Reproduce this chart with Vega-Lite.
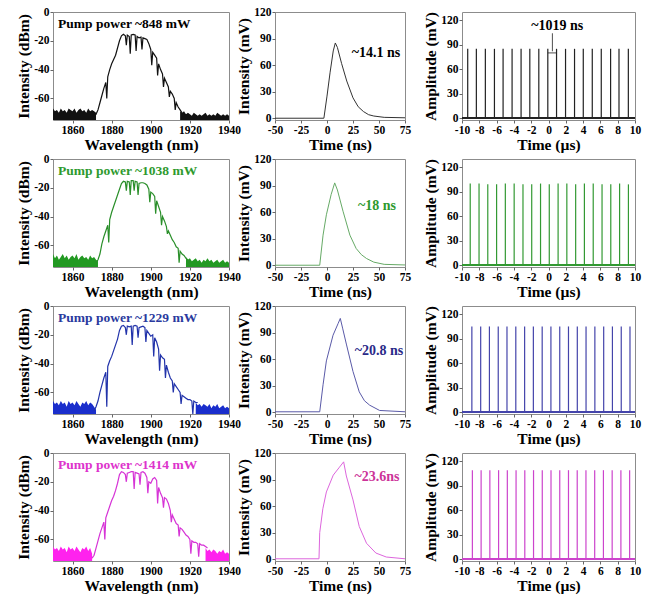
{
"$schema": "https://vega.github.io/schema/vega-lite/v6.json",
"padding": {"left": 16, "top": 5, "right": 2, "bottom": 2},
"background": "white",
"config": {
 "view": {"stroke": "#8c8c8c", "strokeWidth": 1},
 "axis": {"labelFont": "Liberation Serif", "labelFontWeight": "bold", "labelFontSize": 11.5, "labelColor": "#000", "titleFont": "Liberation Serif", "titleFontWeight": "bold", "titleFontSize": 15.5, "titleColor": "#000", "grid": false, "domain": false, "tickSize": 3, "tickColor": "#666", "labelFlush": false, "labelPadding": 1, "titlePadding": 2, "labelOverlap": false, "tickCount": 30, "labelExpr": "'' + datum.value"},
 "text": {"font": "Liberation Serif", "fontWeight": "bold"}
},
"datasets": {
 "n1": [{"w":1850,"hi":-67,"seg":"L"},{"w":1851,"hi":-69,"seg":"L"},{"w":1852,"hi":-68,"seg":"L"},{"w":1853,"hi":-70,"seg":"L"},{"w":1854,"hi":-67,"seg":"L"},{"w":1855,"hi":-69,"seg":"L"},{"w":1856,"hi":-68,"seg":"L"},{"w":1857,"hi":-70,"seg":"L"},{"w":1858,"hi":-67,"seg":"L"},{"w":1859,"hi":-68,"seg":"L"},{"w":1860,"hi":-69,"seg":"L"},{"w":1861,"hi":-67,"seg":"L"},{"w":1862,"hi":-70,"seg":"L"},{"w":1863,"hi":-68,"seg":"L"},{"w":1864,"hi":-67,"seg":"L"},{"w":1865,"hi":-69,"seg":"L"},{"w":1866,"hi":-68,"seg":"L"},{"w":1867,"hi":-70,"seg":"L"},{"w":1868,"hi":-67,"seg":"L"},{"w":1869,"hi":-69,"seg":"L"},{"w":1870,"hi":-68,"seg":"L"},{"w":1871,"hi":-69,"seg":"L"},{"w":1872,"hi":-70,"seg":"L"},
  {"w":1915,"hi":-69,"seg":"R"},{"w":1916,"hi":-70,"seg":"R"},{"w":1917,"hi":-69,"seg":"R"},{"w":1918,"hi":-71,"seg":"R"},{"w":1919,"hi":-70,"seg":"R"},{"w":1920,"hi":-71,"seg":"R"},{"w":1921,"hi":-72,"seg":"R"},{"w":1922,"hi":-70,"seg":"R"},{"w":1923,"hi":-71,"seg":"R"},{"w":1924,"hi":-72,"seg":"R"},{"w":1925,"hi":-71,"seg":"R"},{"w":1926,"hi":-72,"seg":"R"},{"w":1927,"hi":-71,"seg":"R"},{"w":1928,"hi":-70,"seg":"R"},{"w":1929,"hi":-72,"seg":"R"},{"w":1930,"hi":-71,"seg":"R"},{"w":1931,"hi":-72,"seg":"R"},{"w":1932,"hi":-71,"seg":"R"},{"w":1933,"hi":-72,"seg":"R"},{"w":1934,"hi":-70,"seg":"R"},{"w":1935,"hi":-71,"seg":"R"},{"w":1936,"hi":-72,"seg":"R"},{"w":1937,"hi":-71,"seg":"R"},{"w":1938,"hi":-72,"seg":"R"},{"w":1939,"hi":-71,"seg":"R"},{"w":1940,"hi":-72,"seg":"R"}],
 "s1": [{"w":1871,"v":-72},{"w":1872,"v":-71},{"w":1873,"v":-68},{"w":1874,"v":-63},{"w":1875,"v":-58},{"w":1876,"v":-53},{"w":1877,"v":-49},{"w":1877.5,"v":-60},{"w":1878,"v":-45},{"w":1879,"v":-40},{"w":1880,"v":-36},{"w":1881,"v":-33},{"w":1882,"v":-30},{"w":1883,"v":-25},{"w":1884,"v":-20},{"w":1885,"v":-16.5},{"w":1886,"v":-15.5},{"w":1887,"v":-16.5},{"w":1887.5,"v":-23},{"w":1888,"v":-16},{"w":1889,"v":-17},{"w":1889.5,"v":-29},{"w":1890,"v":-16},{"w":1891,"v":-15.5},{"w":1892,"v":-16},{"w":1892.5,"v":-27},{"w":1893,"v":-17},{"w":1894,"v":-18},{"w":1895,"v":-17.5},{"w":1895.5,"v":-26},{"w":1896,"v":-18},{"w":1897,"v":-18.5},{"w":1898,"v":-19},{"w":1899,"v":-22},{"w":1900,"v":-26},{"w":1900.5,"v":-37},{"w":1901,"v":-28},{"w":1902,"v":-30},{"w":1903,"v":-32},{"w":1903.5,"v":-44},{"w":1904,"v":-36},{"w":1905,"v":-40},{"w":1906,"v":-43},{"w":1906.5,"v":-52},{"w":1907,"v":-46},{"w":1908,"v":-49},{"w":1909,"v":-52},{"w":1909.5,"v":-59},{"w":1910,"v":-55},{"w":1911,"v":-57},{"w":1912,"v":-60},{"w":1912.5,"v":-68},{"w":1913,"v":-63},{"w":1914,"v":-66},{"w":1915,"v":-68},{"w":1916,"v":-70}],
 "n2": [{"w":1850,"hi":-66,"seg":"L"},{"w":1851,"hi":-69,"seg":"L"},{"w":1852,"hi":-67,"seg":"L"},{"w":1853,"hi":-70,"seg":"L"},{"w":1854,"hi":-68,"seg":"L"},{"w":1855,"hi":-66,"seg":"L"},{"w":1856,"hi":-69,"seg":"L"},{"w":1857,"hi":-67,"seg":"L"},{"w":1858,"hi":-70,"seg":"L"},{"w":1859,"hi":-68,"seg":"L"},{"w":1860,"hi":-67,"seg":"L"},{"w":1861,"hi":-69,"seg":"L"},{"w":1862,"hi":-66,"seg":"L"},{"w":1863,"hi":-70,"seg":"L"},{"w":1864,"hi":-68,"seg":"L"},{"w":1865,"hi":-67,"seg":"L"},{"w":1866,"hi":-69,"seg":"L"},{"w":1867,"hi":-68,"seg":"L"},{"w":1868,"hi":-70,"seg":"L"},{"w":1869,"hi":-67,"seg":"L"},{"w":1870,"hi":-69,"seg":"L"},{"w":1871,"hi":-68,"seg":"L"},{"w":1872,"hi":-70,"seg":"L"},{"w":1873,"hi":-71,"seg":"L"},
  {"w":1918,"hi":-68,"seg":"R"},{"w":1919,"hi":-70,"seg":"R"},{"w":1920,"hi":-69,"seg":"R"},{"w":1921,"hi":-71,"seg":"R"},{"w":1922,"hi":-70,"seg":"R"},{"w":1923,"hi":-69,"seg":"R"},{"w":1924,"hi":-71,"seg":"R"},{"w":1925,"hi":-70,"seg":"R"},{"w":1926,"hi":-72,"seg":"R"},{"w":1927,"hi":-70,"seg":"R"},{"w":1928,"hi":-71,"seg":"R"},{"w":1929,"hi":-69,"seg":"R"},{"w":1930,"hi":-71,"seg":"R"},{"w":1931,"hi":-70,"seg":"R"},{"w":1932,"hi":-72,"seg":"R"},{"w":1933,"hi":-71,"seg":"R"},{"w":1934,"hi":-70,"seg":"R"},{"w":1935,"hi":-72,"seg":"R"},{"w":1936,"hi":-71,"seg":"R"},{"w":1937,"hi":-70,"seg":"R"},{"w":1938,"hi":-72,"seg":"R"},{"w":1939,"hi":-71,"seg":"R"},{"w":1940,"hi":-72,"seg":"R"}],
 "s2": [{"w":1872,"v":-72},{"w":1873,"v":-70},{"w":1874,"v":-66},{"w":1875,"v":-59},{"w":1876,"v":-54},{"w":1877,"v":-50},{"w":1878,"v":-46},{"w":1878.5,"v":-58},{"w":1879,"v":-42},{"w":1880,"v":-37},{"w":1881,"v":-33},{"w":1882,"v":-29},{"w":1883,"v":-25},{"w":1884,"v":-21},{"w":1885,"v":-17},{"w":1886,"v":-15.5},{"w":1887,"v":-16},{"w":1887.5,"v":-22},{"w":1888,"v":-15.5},{"w":1889,"v":-16},{"w":1889.5,"v":-25},{"w":1890,"v":-15},{"w":1891,"v":-15},{"w":1891.5,"v":-22},{"w":1892,"v":-15.5},{"w":1893,"v":-16},{"w":1893.5,"v":-25},{"w":1894,"v":-17},{"w":1895,"v":-16.5},{"w":1896,"v":-16.5},{"w":1897,"v":-17},{"w":1898,"v":-18},{"w":1899,"v":-21},{"w":1899.5,"v":-30},{"w":1900,"v":-23},{"w":1901,"v":-24},{"w":1902,"v":-26},{"w":1902.5,"v":-38},{"w":1903,"v":-29},{"w":1904,"v":-33},{"w":1905,"v":-37},{"w":1905.5,"v":-46},{"w":1906,"v":-40},{"w":1907,"v":-43},{"w":1908,"v":-47},{"w":1908.5,"v":-52},{"w":1909,"v":-50},{"w":1910,"v":-53},{"w":1911,"v":-56},{"w":1912,"v":-58},{"w":1913,"v":-61},{"w":1914,"v":-62},{"w":1914.5,"v":-72},{"w":1915,"v":-64},{"w":1916,"v":-66},{"w":1917,"v":-67},{"w":1918,"v":-69},{"w":1919,"v":-70},{"w":1919.5,"v":-75},{"w":1920,"v":-70}],
 "n3": [{"w":1850,"hi":-66,"seg":"L"},{"w":1851,"hi":-68,"seg":"L"},{"w":1852,"hi":-67,"seg":"L"},{"w":1853,"hi":-69,"seg":"L"},{"w":1854,"hi":-66,"seg":"L"},{"w":1855,"hi":-68,"seg":"L"},{"w":1856,"hi":-67,"seg":"L"},{"w":1857,"hi":-70,"seg":"L"},{"w":1858,"hi":-66,"seg":"L"},{"w":1859,"hi":-68,"seg":"L"},{"w":1860,"hi":-67,"seg":"L"},{"w":1861,"hi":-69,"seg":"L"},{"w":1862,"hi":-66,"seg":"L"},{"w":1863,"hi":-68,"seg":"L"},{"w":1864,"hi":-70,"seg":"L"},{"w":1865,"hi":-67,"seg":"L"},{"w":1866,"hi":-68,"seg":"L"},{"w":1867,"hi":-66,"seg":"L"},{"w":1868,"hi":-69,"seg":"L"},{"w":1869,"hi":-67,"seg":"L"},{"w":1870,"hi":-68,"seg":"L"},{"w":1871,"hi":-70,"seg":"L"},{"w":1872,"hi":-72,"seg":"L"},
  {"w":1923,"hi":-67,"seg":"R"},{"w":1924,"hi":-69,"seg":"R"},{"w":1925,"hi":-68,"seg":"R"},{"w":1926,"hi":-70,"seg":"R"},{"w":1927,"hi":-68,"seg":"R"},{"w":1928,"hi":-69,"seg":"R"},{"w":1929,"hi":-70,"seg":"R"},{"w":1930,"hi":-68,"seg":"R"},{"w":1931,"hi":-71,"seg":"R"},{"w":1932,"hi":-69,"seg":"R"},{"w":1933,"hi":-70,"seg":"R"},{"w":1934,"hi":-68,"seg":"R"},{"w":1935,"hi":-71,"seg":"R"},{"w":1936,"hi":-70,"seg":"R"},{"w":1937,"hi":-69,"seg":"R"},{"w":1938,"hi":-71,"seg":"R"},{"w":1939,"hi":-70,"seg":"R"},{"w":1940,"hi":-71,"seg":"R"}],
 "s3": [{"w":1871,"v":-73},{"w":1872,"v":-70},{"w":1873,"v":-66},{"w":1874,"v":-60},{"w":1875,"v":-55},{"w":1876,"v":-50},{"w":1877,"v":-46},{"w":1877.5,"v":-70},{"w":1878,"v":-42},{"w":1879,"v":-38},{"w":1880,"v":-35},{"w":1881,"v":-31},{"w":1882,"v":-27},{"w":1883,"v":-23},{"w":1884,"v":-17},{"w":1885,"v":-14},{"w":1886,"v":-13.5},{"w":1887,"v":-15},{"w":1887.5,"v":-20},{"w":1888,"v":-14},{"w":1889,"v":-14.5},{"w":1890,"v":-14},{"w":1890.5,"v":-27},{"w":1891,"v":-14},{"w":1892,"v":-13.5},{"w":1893,"v":-14},{"w":1893.5,"v":-22},{"w":1894,"v":-15},{"w":1895,"v":-14.5},{"w":1896,"v":-14},{"w":1897,"v":-15},{"w":1897.5,"v":-25},{"w":1898,"v":-17},{"w":1899,"v":-19},{"w":1900,"v":-21},{"w":1901,"v":-20},{"w":1901.5,"v":-35},{"w":1902,"v":-22},{"w":1903,"v":-25},{"w":1904,"v":-30},{"w":1904.5,"v":-45},{"w":1905,"v":-34},{"w":1906,"v":-36},{"w":1907,"v":-37},{"w":1907.5,"v":-50},{"w":1908,"v":-41},{"w":1909,"v":-46},{"w":1910,"v":-50},{"w":1911,"v":-52},{"w":1911.5,"v":-60},{"w":1912,"v":-54},{"w":1913,"v":-56},{"w":1914,"v":-58},{"w":1915,"v":-60},{"w":1915.5,"v":-68},{"w":1916,"v":-62},{"w":1917,"v":-63},{"w":1918,"v":-64},{"w":1919,"v":-65},{"w":1920,"v":-65},{"w":1921,"v":-66},{"w":1921.5,"v":-75},{"w":1922,"v":-66},{"w":1923,"v":-67},{"w":1924,"v":-67}],
 "n4": [{"w":1850,"hi":-65,"seg":"L"},{"w":1851,"hi":-67,"seg":"L"},{"w":1852,"hi":-66,"seg":"L"},{"w":1853,"hi":-68,"seg":"L"},{"w":1854,"hi":-65,"seg":"L"},{"w":1855,"hi":-67,"seg":"L"},{"w":1856,"hi":-66,"seg":"L"},{"w":1857,"hi":-69,"seg":"L"},{"w":1858,"hi":-65,"seg":"L"},{"w":1859,"hi":-67,"seg":"L"},{"w":1860,"hi":-66,"seg":"L"},{"w":1861,"hi":-68,"seg":"L"},{"w":1862,"hi":-65,"seg":"L"},{"w":1863,"hi":-67,"seg":"L"},{"w":1864,"hi":-69,"seg":"L"},{"w":1865,"hi":-66,"seg":"L"},{"w":1866,"hi":-67,"seg":"L"},{"w":1867,"hi":-65,"seg":"L"},{"w":1868,"hi":-68,"seg":"L"},{"w":1869,"hi":-66,"seg":"L"},{"w":1870,"hi":-70,"seg":"L"},
  {"w":1928,"hi":-66,"seg":"R"},{"w":1929,"hi":-68,"seg":"R"},{"w":1930,"hi":-67,"seg":"R"},{"w":1931,"hi":-69,"seg":"R"},{"w":1932,"hi":-67,"seg":"R"},{"w":1933,"hi":-68,"seg":"R"},{"w":1934,"hi":-70,"seg":"R"},{"w":1935,"hi":-68,"seg":"R"},{"w":1936,"hi":-69,"seg":"R"},{"w":1937,"hi":-67,"seg":"R"},{"w":1938,"hi":-70,"seg":"R"},{"w":1939,"hi":-69,"seg":"R"},{"w":1940,"hi":-70,"seg":"R"}],
 "s4": [{"w":1870,"v":-73},{"w":1871,"v":-71},{"w":1872,"v":-66},{"w":1873,"v":-61},{"w":1874,"v":-56},{"w":1875,"v":-52},{"w":1876,"v":-48},{"w":1876.5,"v":-60},{"w":1877,"v":-45},{"w":1878,"v":-41},{"w":1879,"v":-37},{"w":1880,"v":-33},{"w":1881,"v":-30},{"w":1882,"v":-26},{"w":1883,"v":-21},{"w":1884,"v":-15},{"w":1885,"v":-13},{"w":1886,"v":-13.5},{"w":1887,"v":-15},{"w":1887.5,"v":-20},{"w":1888,"v":-14},{"w":1889,"v":-13.5},{"w":1890,"v":-13},{"w":1891,"v":-13},{"w":1891.5,"v":-25},{"w":1892,"v":-13.5},{"w":1893,"v":-14},{"w":1894,"v":-14.5},{"w":1894.5,"v":-22},{"w":1895,"v":-13.5},{"w":1896,"v":-13},{"w":1897,"v":-14},{"w":1898,"v":-17},{"w":1898.5,"v":-28},{"w":1899,"v":-20},{"w":1900,"v":-21},{"w":1901,"v":-18},{"w":1902,"v":-17},{"w":1903,"v":-19},{"w":1903.5,"v":-35},{"w":1904,"v":-24},{"w":1905,"v":-28},{"w":1906,"v":-31},{"w":1906.5,"v":-38},{"w":1907,"v":-31},{"w":1908,"v":-32},{"w":1909,"v":-35},{"w":1910,"v":-40},{"w":1910.5,"v":-48},{"w":1911,"v":-43},{"w":1912,"v":-46},{"w":1913,"v":-49},{"w":1914,"v":-50},{"w":1914.5,"v":-58},{"w":1915,"v":-52},{"w":1916,"v":-53},{"w":1917,"v":-55},{"w":1918,"v":-57},{"w":1919,"v":-58},{"w":1920,"v":-60},{"w":1920.5,"v":-70},{"w":1921,"v":-61},{"w":1922,"v":-62},{"w":1923,"v":-62},{"w":1924,"v":-63},{"w":1924.5,"v":-72},{"w":1925,"v":-63},{"w":1926,"v":-64},{"w":1927,"v":-64},{"w":1928,"v":-65},{"w":1929,"v":-66}],
 "p1": [{"t":-50,"v":0},{"t":-3,"v":0},{"t":0,"v":25},{"t":3,"v":52},{"t":6,"v":76},{"t":8,"v":85},{"t":10,"v":80},{"t":14,"v":62},{"t":19,"v":42},{"t":25,"v":23},{"t":30,"v":13},{"t":35,"v":7.6},{"t":40,"v":4},{"t":45,"v":2.5},{"t":55,"v":1},{"t":75,"v":0.5}],
 "p2": [{"t":-50,"v":0},{"t":-7,"v":0},{"t":-3.8,"v":34},{"t":-0.6,"v":57},{"t":4,"v":80},{"t":7.4,"v":93},{"t":10,"v":85},{"t":15.4,"v":61},{"t":22,"v":34},{"t":28,"v":19},{"t":33,"v":12},{"t":38,"v":7.6},{"t":45,"v":3.5},{"t":55,"v":1},{"t":75,"v":0.3}],
 "p3": [{"t":-50,"v":0.5},{"t":-7,"v":0.5},{"t":-3.8,"v":31},{"t":-0.6,"v":58},{"t":5.8,"v":87},{"t":10.6,"v":100},{"t":12.8,"v":106},{"t":15,"v":95},{"t":18.6,"v":77},{"t":25,"v":46},{"t":31,"v":23},{"t":36,"v":13},{"t":41,"v":8},{"t":50.6,"v":2},{"t":75,"v":0.5}],
 "p4": [{"t":-50,"v":0.5},{"t":-7.7,"v":0.5},{"t":-7,"v":30},{"t":-4,"v":57},{"t":-0.6,"v":76},{"t":6,"v":95},{"t":12,"v":104},{"t":16,"v":110},{"t":18.6,"v":94},{"t":25,"v":67},{"t":31,"v":37},{"t":38,"v":18},{"t":47,"v":7},{"t":57,"v":2.5},{"t":75,"v":0.5}],
 "t1": [{"t":-9.34,"a":85},{"t":-8.34,"a":85},{"t":-7.3,"a":85},{"t":-6.25,"a":85},{"t":-5.25,"a":85},{"t":-4.21,"a":85},{"t":-3.17,"a":85},{"t":-2.16,"a":85},{"t":-1.12,"a":85},{"t":-0.08,"a":85},{"t":0.93,"a":85},{"t":1.97,"a":85},{"t":3.01,"a":85},{"t":4.02,"a":85},{"t":5.06,"a":85},{"t":6.1,"a":85},{"t":7.18,"a":85},{"t":8.15,"a":85},{"t":9.23,"a":85}],
 "t2": [{"t":-9.05,"a":100},{"t":-8.03,"a":100},{"t":-7.02,"a":99},{"t":-6.0,"a":99},{"t":-4.99,"a":100},{"t":-3.97,"a":100},{"t":-2.95,"a":99},{"t":-1.94,"a":99},{"t":-0.92,"a":100},{"t":0.09,"a":99},{"t":1.11,"a":100},{"t":2.12,"a":100},{"t":3.14,"a":99},{"t":4.15,"a":100},{"t":5.17,"a":100},{"t":6.19,"a":99},{"t":7.2,"a":99},{"t":8.22,"a":100},{"t":9.24,"a":99}],
 "t3": [{"t":-8.86,"a":105},{"t":-7.84,"a":105},{"t":-6.83,"a":105},{"t":-5.81,"a":105},{"t":-4.8,"a":105},{"t":-3.78,"a":105},{"t":-2.76,"a":105},{"t":-1.75,"a":105},{"t":-0.73,"a":105},{"t":0.28,"a":105},{"t":1.3,"a":105},{"t":2.31,"a":105},{"t":3.33,"a":105},{"t":4.34,"a":105},{"t":5.36,"a":105},{"t":6.38,"a":105},{"t":7.39,"a":105},{"t":8.41,"a":105},{"t":9.42,"a":105}],
 "t4": [{"t":-8.8,"a":109},{"t":-7.79,"a":109},{"t":-6.78,"a":109},{"t":-5.77,"a":109},{"t":-4.76,"a":109},{"t":-3.75,"a":109},{"t":-2.74,"a":109},{"t":-1.73,"a":109},{"t":-0.72,"a":109},{"t":0.29,"a":109},{"t":1.3,"a":109},{"t":2.31,"a":109},{"t":3.32,"a":109},{"t":4.33,"a":109},{"t":5.34,"a":109},{"t":6.35,"a":109},{"t":7.36,"a":109},{"t":8.37,"a":109},{"t":9.38,"a":109}]
},
"spacing": -2,
"vconcat": [
 {"spacing": 11, "hconcat": [
  {"spacing": -5, "hconcat": [
  {"width": 176, "height": 108, "layer": [
   {"data": {"name": "n1"}, "mark": {"type": "area", "color": "#111"}, "encoding": {"x": {"field": "w", "type": "quantitative", "scale": {"domain": [1850, 1940], "nice": false, "zero": false}, "axis": {"title": "Wavelength (nm)", "values": [1860, 1880, 1900, 1920, 1940], "tickCount": 30}}, "y": {"field": "hi", "type": "quantitative", "scale": {"domain": [-75, 0], "nice": false, "zero": false}, "axis": {"title": "Intensity (dBm)", "values": [0, -20, -40, -60], "tickCount": 30}}, "y2": {"datum": -75}, "detail": {"field": "seg"}}},
   {"data": {"name": "s1"}, "mark": {"type": "line", "color": "#111", "strokeWidth": 1.2}, "encoding": {"x": {"field": "w", "type": "quantitative"}, "y": {"field": "v", "type": "quantitative"}}},
   {"data": {"values": [{"label": "Pump power ~848 mW"}]}, "mark": {"type": "text", "align": "left", "baseline": "middle", "fontSize": 13.5, "color": "#000"}, "encoding": {"x": {"datum": 1852.6}, "y": {"datum": -8.4}, "text": {"field": "label"}}}
  ]},
  {"width": 130, "height": 108, "layer": [
   {"data": {"name": "p1"}, "mark": {"type": "line", "color": "#333", "strokeWidth": 1}, "encoding": {"x": {"field": "t", "type": "quantitative", "scale": {"domain": [-50, 75], "nice": false, "zero": false}, "axis": {"title": "Time (ns)", "values": [-50, -25, 0, 25, 50, 75], "tickCount": 30}}, "y": {"field": "v", "type": "quantitative", "scale": {"domain": [-2, 120], "nice": false, "zero": false}, "axis": {"title": "Intensity (mV)", "values": [0, 30, 60, 90, 120], "tickCount": 30}}}},
   {"data": {"values": [{"label": "~14.1 ns"}]}, "mark": {"type": "text", "align": "center", "baseline": "middle", "fontSize": 14, "color": "#000"}, "encoding": {"x": {"datum": 47}, "y": {"datum": 74}, "text": {"field": "label"}}}
  ]}
  ]},
  {"width": 173, "height": 108, "layer": [
   {"data": {"name": "t1"}, "mark": {"type": "rule", "color": "#222", "strokeWidth": 1.2}, "encoding": {"x": {"field": "t", "type": "quantitative", "scale": {"domain": [-10, 10], "nice": false, "zero": false}, "axis": {"title": "Time (µs)", "values": [-10, -8, -6, -4, -2, 0, 2, 4, 6, 8, 10], "tickCount": 30}}, "y": {"field": "a", "type": "quantitative", "scale": {"domain": [-2, 130], "nice": false, "zero": false}, "axis": {"title": "Amplitude (mV)", "values": [0, 30, 60, 90, 120], "tickCount": 30}}, "y2": {"datum": 0}}},
   {"data": {"values": [{}]}, "mark": {"type": "rule", "color": "#222", "strokeWidth": 2}, "encoding": {"y": {"datum": 0.5}}},
   {"data": {"values": [{}]}, "mark": {"type": "rule", "color": "#222", "strokeWidth": 0.8}, "encoding": {"x": {"datum": 0.45}, "y": {"datum": 104}, "y2": {"datum": 82}}},
   {"data": {"values": [{}]}, "mark": {"type": "rule", "color": "#222", "strokeWidth": 0.8}, "encoding": {"x": {"datum": -0.08}, "x2": {"datum": 0.93}, "y": {"datum": 80}}},
   {"data": {"values": [{"label": "~1019 ns"}]}, "mark": {"type": "text", "align": "center", "baseline": "middle", "fontSize": 14, "color": "#000"}, "encoding": {"x": {"datum": 1.0}, "y": {"datum": 113}, "text": {"field": "label"}}}
  ]}
 ]},
 {"spacing": 11, "hconcat": [
  {"spacing": -5, "hconcat": [
  {"width": 176, "height": 108, "layer": [
   {"data": {"name": "n2"}, "mark": {"type": "area", "color": "#229922"}, "encoding": {"x": {"field": "w", "type": "quantitative", "scale": {"domain": [1850, 1940], "nice": false, "zero": false}, "axis": {"title": "Wavelength (nm)", "values": [1860, 1880, 1900, 1920, 1940], "tickCount": 30}}, "y": {"field": "hi", "type": "quantitative", "scale": {"domain": [-75, 0], "nice": false, "zero": false}, "axis": {"title": "Intensity (dBm)", "values": [0, -20, -40, -60], "tickCount": 30}}, "y2": {"datum": -75}, "detail": {"field": "seg"}}},
   {"data": {"name": "s2"}, "mark": {"type": "line", "color": "#2a8f2a", "strokeWidth": 1.2}, "encoding": {"x": {"field": "w", "type": "quantitative"}, "y": {"field": "v", "type": "quantitative"}}},
   {"data": {"values": [{"label": "Pump power ~1038 mW"}]}, "mark": {"type": "text", "align": "left", "baseline": "middle", "fontSize": 13.5, "color": "#2e9a2e"}, "encoding": {"x": {"datum": 1852.6}, "y": {"datum": -8.4}, "text": {"field": "label"}}}
  ]},
  {"width": 130, "height": 108, "layer": [
   {"data": {"name": "p2"}, "mark": {"type": "line", "color": "#66aa66", "strokeWidth": 1}, "encoding": {"x": {"field": "t", "type": "quantitative", "scale": {"domain": [-50, 75], "nice": false, "zero": false}, "axis": {"title": "Time (ns)", "values": [-50, -25, 0, 25, 50, 75], "tickCount": 30}}, "y": {"field": "v", "type": "quantitative", "scale": {"domain": [-2, 120], "nice": false, "zero": false}, "axis": {"title": "Intensity (mV)", "values": [0, 30, 60, 90, 120], "tickCount": 30}}}},
   {"data": {"values": [{"label": "~18 ns"}]}, "mark": {"type": "text", "align": "center", "baseline": "middle", "fontSize": 14, "color": "#2e9a2e"}, "encoding": {"x": {"datum": 48}, "y": {"datum": 67}, "text": {"field": "label"}}}
  ]}
  ]},
  {"width": 173, "height": 108, "layer": [
   {"data": {"name": "t2"}, "mark": {"type": "rule", "color": "#339933", "strokeWidth": 1.2}, "encoding": {"x": {"field": "t", "type": "quantitative", "scale": {"domain": [-10, 10], "nice": false, "zero": false}, "axis": {"title": "Time (µs)", "values": [-10, -8, -6, -4, -2, 0, 2, 4, 6, 8, 10], "tickCount": 30}}, "y": {"field": "a", "type": "quantitative", "scale": {"domain": [-2, 130], "nice": false, "zero": false}, "axis": {"title": "Amplitude (mV)", "values": [0, 30, 60, 90, 120], "tickCount": 30}}, "y2": {"datum": 0}}},
   {"data": {"values": [{}]}, "mark": {"type": "rule", "color": "#339933", "strokeWidth": 2}, "encoding": {"y": {"datum": 0.5}}}
  ]}
 ]},
 {"spacing": 11, "hconcat": [
  {"spacing": -5, "hconcat": [
  {"width": 176, "height": 108, "layer": [
   {"data": {"name": "n3"}, "mark": {"type": "area", "color": "#1a2ecc"}, "encoding": {"x": {"field": "w", "type": "quantitative", "scale": {"domain": [1850, 1940], "nice": false, "zero": false}, "axis": {"title": "Wavelength (nm)", "values": [1860, 1880, 1900, 1920, 1940], "tickCount": 30}}, "y": {"field": "hi", "type": "quantitative", "scale": {"domain": [-75, 0], "nice": false, "zero": false}, "axis": {"title": "Intensity (dBm)", "values": [0, -20, -40, -60], "tickCount": 30}}, "y2": {"datum": -75}, "detail": {"field": "seg"}}},
   {"data": {"name": "s3"}, "mark": {"type": "line", "color": "#2233aa", "strokeWidth": 1.2}, "encoding": {"x": {"field": "w", "type": "quantitative"}, "y": {"field": "v", "type": "quantitative"}}},
   {"data": {"values": [{"label": "Pump power ~1229 mW"}]}, "mark": {"type": "text", "align": "left", "baseline": "middle", "fontSize": 13.5, "color": "#2a3a9e"}, "encoding": {"x": {"datum": 1852.6}, "y": {"datum": -8.4}, "text": {"field": "label"}}}
  ]},
  {"width": 130, "height": 108, "layer": [
   {"data": {"name": "p3"}, "mark": {"type": "line", "color": "#5a5aa8", "strokeWidth": 1}, "encoding": {"x": {"field": "t", "type": "quantitative", "scale": {"domain": [-50, 75], "nice": false, "zero": false}, "axis": {"title": "Time (ns)", "values": [-50, -25, 0, 25, 50, 75], "tickCount": 30}}, "y": {"field": "v", "type": "quantitative", "scale": {"domain": [-2, 120], "nice": false, "zero": false}, "axis": {"title": "Intensity (mV)", "values": [0, 30, 60, 90, 120], "tickCount": 30}}}},
   {"data": {"values": [{"label": "~20.8 ns"}]}, "mark": {"type": "text", "align": "center", "baseline": "middle", "fontSize": 14, "color": "#2a2a88"}, "encoding": {"x": {"datum": 50}, "y": {"datum": 69}, "text": {"field": "label"}}}
  ]}
  ]},
  {"width": 173, "height": 108, "layer": [
   {"data": {"name": "t3"}, "mark": {"type": "rule", "color": "#4444aa", "strokeWidth": 1.2}, "encoding": {"x": {"field": "t", "type": "quantitative", "scale": {"domain": [-10, 10], "nice": false, "zero": false}, "axis": {"title": "Time (µs)", "values": [-10, -8, -6, -4, -2, 0, 2, 4, 6, 8, 10], "tickCount": 30}}, "y": {"field": "a", "type": "quantitative", "scale": {"domain": [-2, 130], "nice": false, "zero": false}, "axis": {"title": "Amplitude (mV)", "values": [0, 30, 60, 90, 120], "tickCount": 30}}, "y2": {"datum": 0}}},
   {"data": {"values": [{}]}, "mark": {"type": "rule", "color": "#4444aa", "strokeWidth": 2}, "encoding": {"y": {"datum": 0.5}}}
  ]}
 ]},
 {"spacing": 11, "hconcat": [
  {"spacing": -5, "hconcat": [
  {"width": 176, "height": 108, "layer": [
   {"data": {"name": "n4"}, "mark": {"type": "area", "color": "#ff22ee"}, "encoding": {"x": {"field": "w", "type": "quantitative", "scale": {"domain": [1850, 1940], "nice": false, "zero": false}, "axis": {"title": "Wavelength (nm)", "values": [1860, 1880, 1900, 1920, 1940], "tickCount": 30}}, "y": {"field": "hi", "type": "quantitative", "scale": {"domain": [-75, 0], "nice": false, "zero": false}, "axis": {"title": "Intensity (dBm)", "values": [0, -20, -40, -60], "tickCount": 30}}, "y2": {"datum": -75}, "detail": {"field": "seg"}}},
   {"data": {"name": "s4"}, "mark": {"type": "line", "color": "#d633d6", "strokeWidth": 1.2}, "encoding": {"x": {"field": "w", "type": "quantitative"}, "y": {"field": "v", "type": "quantitative"}}},
   {"data": {"values": [{"label": "Pump power ~1414 mW"}]}, "mark": {"type": "text", "align": "left", "baseline": "middle", "fontSize": 13.5, "color": "#dd33cc"}, "encoding": {"x": {"datum": 1852.6}, "y": {"datum": -8.4}, "text": {"field": "label"}}}
  ]},
  {"width": 130, "height": 108, "layer": [
   {"data": {"name": "p4"}, "mark": {"type": "line", "color": "#dd66dd", "strokeWidth": 1}, "encoding": {"x": {"field": "t", "type": "quantitative", "scale": {"domain": [-50, 75], "nice": false, "zero": false}, "axis": {"title": "Time (ns)", "values": [-50, -25, 0, 25, 50, 75], "tickCount": 30}}, "y": {"field": "v", "type": "quantitative", "scale": {"domain": [-2, 120], "nice": false, "zero": false}, "axis": {"title": "Intensity (mV)", "values": [0, 30, 60, 90, 120], "tickCount": 30}}}},
   {"data": {"values": [{"label": "~23.6ns"}]}, "mark": {"type": "text", "align": "center", "baseline": "middle", "fontSize": 14, "color": "#cc3399"}, "encoding": {"x": {"datum": 48}, "y": {"datum": 93}, "text": {"field": "label"}}}
  ]}
  ]},
  {"width": 173, "height": 108, "layer": [
   {"data": {"name": "t4"}, "mark": {"type": "rule", "color": "#cc44cc", "strokeWidth": 1.2}, "encoding": {"x": {"field": "t", "type": "quantitative", "scale": {"domain": [-10, 10], "nice": false, "zero": false}, "axis": {"title": "Time (µs)", "values": [-10, -8, -6, -4, -2, 0, 2, 4, 6, 8, 10], "tickCount": 30}}, "y": {"field": "a", "type": "quantitative", "scale": {"domain": [-2, 130], "nice": false, "zero": false}, "axis": {"title": "Amplitude (mV)", "values": [0, 30, 60, 90, 120], "tickCount": 30}}, "y2": {"datum": 0}}},
   {"data": {"values": [{}]}, "mark": {"type": "rule", "color": "#cc44cc", "strokeWidth": 2}, "encoding": {"y": {"datum": 0.5}}}
  ]}
 ]}
]
}
